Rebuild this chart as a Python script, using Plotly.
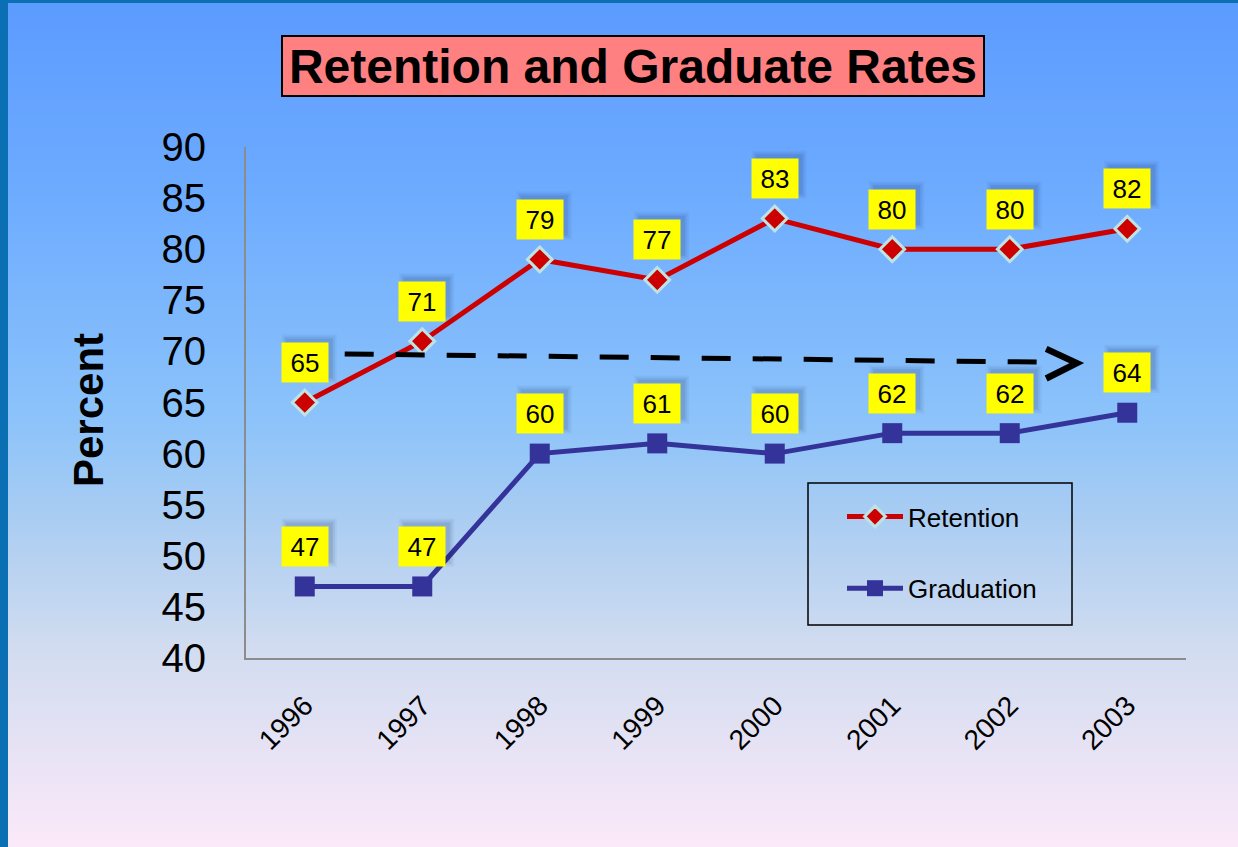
import plotly.graph_objects as go

# ---- data ----
years = [1996, 1997, 1998, 1999, 2000, 2001, 2002, 2003]
retention = [65, 71, 79, 77, 83, 80, 80, 82]
graduation = [47, 47, 60, 61, 60, 62, 62, 64]
y_ticks = [40, 45, 50, 55, 60, 65, 70, 75, 80, 85, 90]

# trend arrow (decorative), in axis units
arrow_start = (1996.34, 69.75)
arrow_end = (2002.57, 68.85)

W, H = 1238, 847
L, R, T, B = 246, 1186, 147, 658   # plot area in pixels


def px(x):
    return (x - L) / (R - L)


def py(y):
    return (B - y) / (B - T)


# background gradient stops (pixel y, rgb)
stops = [(0, (92, 155, 255)), (200, (110, 172, 255)), (420, (140, 195, 250)),
         (520, (170, 205, 242)), (650, (210, 220, 240)), (847, (251, 233, 249))]


def grad(y):
    for (y0, c0), (y1, c1) in zip(stops, stops[1:]):
        if y0 <= y <= y1:
            t = (y - y0) / (y1 - y0)
            return tuple(round(a + (b - a) * t) for a, b in zip(c0, c1))
    return stops[-1][1]


shapes = []
step = 4
for y in range(0, H, step):
    c = grad(y + step / 2)
    shapes.append(dict(type="rect", xref="paper", yref="paper", layer="below",
                       x0=px(0), x1=px(W), y0=py(y + step + 1), y1=py(y),
                       fillcolor="rgb(%d,%d,%d)" % c, line_width=0))
# slide frame
shapes.append(dict(type="rect", xref="paper", yref="paper", layer="below",
                   x0=px(0), x1=px(8), y0=py(H), y1=py(0),
                   fillcolor="#0b6fb4", line_width=0))
shapes.append(dict(type="rect", xref="paper", yref="paper", layer="below",
                   x0=px(0), x1=px(W), y0=py(3), y1=py(0),
                   fillcolor="#0b6fb4", line_width=0))
# legend frame
shapes.append(dict(type="rect", xref="paper", yref="paper",
                   x0=px(808), x1=px(1072), y0=py(625), y1=py(483),
                   line=dict(color="black", width=1.5)))
# dashed trend arrow
shapes.append(dict(type="line", xref="x", yref="y",
                   x0=arrow_start[0], y0=arrow_start[1],
                   x1=arrow_end[0] - 0.3, y1=arrow_end[1] + 0.1,
                   line=dict(color="black", width=5, dash="29px,22px")))
hx, hy = arrow_end
shapes.append(dict(type="path", xref="x", yref="y",
                   path="M %f,%f L %f,%f L %f,%f" % (hx - 0.26, hy + 1.4, hx, hy, hx - 0.26, hy - 1.5),
                   line=dict(color="black", width=6.5)))

# soft shadows behind the value labels
for series in (retention, graduation):
    for x, v in zip(years, series):
        for k, a in ((0, 0.10), (2, 0.07), (4, 0.05)):
            shapes.append(dict(type="rect", xref="x", yref="y",
                               xsizemode="pixel", ysizemode="pixel",
                               xanchor=x, yanchor=v,
                               x0=-19 - k, x1=28 + k, y0=24 - k, y1=64 + k,
                               fillcolor="rgba(20,40,90,%.2f)" % a, line_width=0))

fig = go.Figure()
fig.add_trace(go.Scatter(
    x=years, y=retention, name="Retention", mode="lines+markers",
    line=dict(color="#cc0000", width=5),
    marker=dict(symbol="diamond", size=19, color="#cc0000",
                line=dict(color="#bfe3e3", width=3)),
    legendgroup="a"))
fig.add_trace(go.Scatter(
    x=years, y=graduation, name="Graduation", mode="lines+markers",
    line=dict(color="#333399", width=5),
    marker=dict(symbol="square", size=20, color="#333399"),
    legendgroup="b"))

annotations = []
for series in (retention, graduation):
    for x, v in zip(years, series):
        annotations.append(dict(x=x, y=v, xref="x", yref="y", text=str(v),
                                showarrow=False, yshift=40,
                                font=dict(size=26, color="black", family="Arial"),
                                bgcolor="#ffff00", width=42, height=35, borderpad=2))

annotations.append(dict(x=px(633), y=py(66), xref="paper", yref="paper",
                        xanchor="center", yanchor="middle",
                        text="<b>Retention and Graduate Rates</b>", showarrow=False,
                        font=dict(size=48, color="black", family="Arial"),
                        bgcolor="#ff8080", bordercolor="black", borderwidth=2,
                        width=696, height=54, borderpad=2))
annotations.append(dict(x=px(88), y=py(410), xref="paper", yref="paper",
                        xanchor="center", yanchor="middle",
                        text="<b>Percent</b>", showarrow=False, textangle=-90,
                        font=dict(size=42, color="black", family="Arial")))

fig.update_layout(
    width=W, height=H,
    margin=dict(l=L, r=W - R, t=T, b=H - B),
    paper_bgcolor="rgb(251,233,249)",
    plot_bgcolor="rgba(0,0,0,0)",
    font=dict(family="Arial", color="black"),
    shapes=shapes,
    annotations=annotations,
    showlegend=True,
    legend=dict(x=px(842), y=py(493), xanchor="left", yanchor="top",
                bgcolor="rgba(0,0,0,0)", font=dict(size=26, color="black"),
                tracegroupgap=35, itemwidth=56),
    xaxis=dict(range=[1995.5, 2003.5], tickmode="array", tickvals=years,
               ticktext=[str(y) for y in years], tickangle=-45,
               tickfont=dict(size=28), showgrid=False, zeroline=False,
               showline=True, linecolor="#8c8c8c", linewidth=2,
               ticks="", ticklabelstandoff=18, fixedrange=True),
    yaxis=dict(range=[40, 90], tickmode="array", tickvals=y_ticks,
               tickfont=dict(size=40), showgrid=False, zeroline=False,
               showline=True, linecolor="#8c8c8c", linewidth=2,
               ticks="", ticklabelstandoff=30, fixedrange=True),
)

fig.write_html("out.html", config={"displayModeBar": False},
               post_script="document.body.style.margin='0';document.body.style.overflow='hidden';")
